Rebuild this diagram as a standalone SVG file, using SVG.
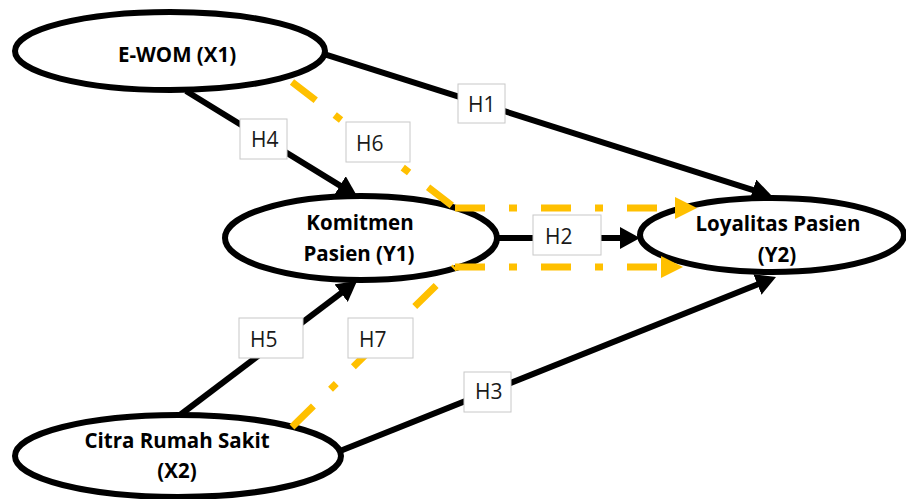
<svg xmlns="http://www.w3.org/2000/svg" width="906" height="499" viewBox="0 0 906 499">
<style>
.node ellipse{fill:#fff;stroke:#000;stroke-width:6}
.node text{font-family:"Open Sans","Liberation Sans",sans-serif;font-weight:700;font-size:20.5px;fill:#000;text-anchor:middle}
.blk{stroke:#000;stroke-width:6;fill:none;marker-end:url(#ab)}
.ylw{stroke:#FFC000;stroke-width:7;fill:none;stroke-dasharray:30 24 8 24}
.ylwa{marker-end:url(#ay)}
.lbl rect{fill:#fff;stroke:#c8c8c8;stroke-width:1}
.lbl text{font-family:"Open Sans","Liberation Sans",sans-serif;font-size:21px;fill:#1a1a1a}
</style>
<defs>
<marker id="ab" markerUnits="userSpaceOnUse" markerWidth="20" markerHeight="22" refX="2" refY="11" orient="auto" viewBox="0 0 20 22"><path d="M0,0 L20,11 L0,22 z" fill="#000"/></marker>
<marker id="ay" markerUnits="userSpaceOnUse" markerWidth="22" markerHeight="22" refX="4" refY="11" orient="auto" viewBox="0 0 22 22"><path d="M0,0 L22,11 L0,22 z" fill="#FFC000"/></marker>
</defs>
<rect width="906" height="499" fill="#fff"/>
<g id="ewom" class="node"><ellipse cx="170" cy="51" rx="155" ry="39"/><text x="177" y="62">E-WOM (X1)</text></g>
<g id="komitmen" class="node"><ellipse cx="361" cy="238" rx="136" ry="42"/><text x="360" y="230">Komitmen</text><text x="359" y="261">Pasien (Y1)</text></g>
<g id="loyalitas" class="node"><ellipse cx="772" cy="235" rx="132" ry="37"/><text x="778" y="231">Loyalitas Pasien</text><text x="777" y="262">(Y2)</text></g>
<g id="citra" class="node"><ellipse cx="178" cy="456" rx="163" ry="41"/><text x="177" y="448">Citra Rumah Sakit</text><text x="177" y="478">(X2)</text></g>
<g id="connectors">
<line class="blk" x1="325" y1="54.3" x2="754.8" y2="190.6"/>
<line class="blk" x1="497" y1="238" x2="622" y2="238"/>
<line class="blk" x1="340" y1="451" x2="759.3" y2="283.7"/>
<line class="blk" x1="186" y1="91" x2="341.7" y2="186.6"/>
<line class="blk" x1="180" y1="415" x2="342.7" y2="291.9"/>
<line class="ylw" x1="292" y1="82" x2="455" y2="208"/>
<line class="ylw ylwa" x1="455" y1="208" x2="679" y2="208"/>
<line class="ylw" x1="292" y1="427" x2="455" y2="267"/>
<line class="ylw ylwa" x1="455" y1="267" x2="665" y2="267"/>
</g>
<g id="labels">
<g class="lbl" id="h1"><rect x="458" y="84" width="47" height="39"/><text x="468" y="112">H1</text></g>
<g class="lbl" id="h2"><rect x="533" y="215" width="68" height="40"/><text x="545" y="244">H2</text></g>
<g class="lbl" id="h3"><rect x="464" y="372" width="47" height="40"/><text x="475" y="399">H3</text></g>
<g class="lbl" id="h4"><rect x="240" y="119" width="47" height="40"/><text x="251" y="147">H4</text></g>
<g class="lbl" id="h5"><rect x="239" y="318" width="64" height="40"/><text x="250" y="347">H5</text></g>
<g class="lbl" id="h6"><rect x="346" y="122" width="64" height="40"/><text x="356" y="151">H6</text></g>
<g class="lbl" id="h7"><rect x="348" y="318" width="65" height="40"/><text x="359" y="347">H7</text></g>
</g>
</svg>
